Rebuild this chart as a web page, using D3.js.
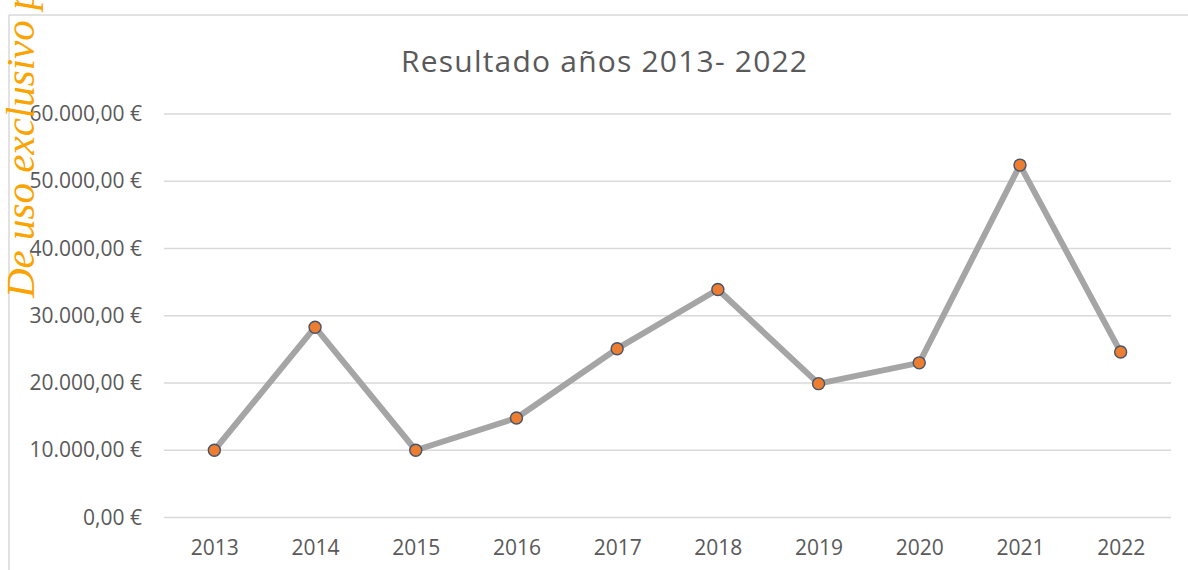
<!DOCTYPE html>
<html>
<head>
<meta charset="utf-8">
<script src="https://cdn.jsdelivr.net/npm/d3@7"></script>
<style>
  body { margin: 0; background: #fff; }
  svg { display: block; }
</style>
</head>
<body>
<script>
// data
var years = ["2013", "2014", "2015", "2016", "2017", "2018", "2019", "2020", "2021", "2022"];
var results = [10000, 28300, 10000, 14800, 25100, 33900, 19900, 23000, 52400, 24600];
var yTicks = [0, 10000, 20000, 30000, 40000, 50000, 60000];
var chartTitle = "Resultado años 2013- 2022";
var watermark = "De uso exclusivo para";

function show_chart(width, height) {
    var svg = d3.select("body").append("svg")
                .attr("width", width)
                .attr("height", height);

    // chart area border (top and left edges visible)
    svg.append("line")
        .attr("x1", 9).attr("x2", width)
        .attr("y1", 15).attr("y2", 15)
        .attr("stroke", "#d9d9d9").attr("stroke-width", 1.5);
    svg.append("line")
        .attr("x1", 9).attr("x2", 9)
        .attr("y1", 15).attr("y2", height)
        .attr("stroke", "#d9d9d9").attr("stroke-width", 1.5);

    var xScale = d3.scalePoint()
                    .domain(years)
                    .range([164, 1171])
                    .padding(0.5);

    var yScale = d3.scaleLinear()
                    .domain([0, 60000])
                    .range([517.5, 114]);

    var euro = d3.formatLocale({
        decimal: ",",
        thousands: ".",
        grouping: [3],
        currency: ["", " €"]
    }).format("$,.2f");

    // gridlines
    svg.append("g")
        .selectAll("line")
        .data(yTicks)
        .enter()
        .append("line")
        .attr("x1", 164)
        .attr("x2", 1171)
        .attr("y1", function(d) { return yScale(d); })
        .attr("y2", function(d) { return yScale(d); })
        .attr("stroke", "#d9d9d9")
        .attr("stroke-width", 1.5);

    // y axis
    var yAxis = svg.append("g")
        .attr("transform", "translate(164,0)")
        .call(d3.axisLeft(yScale).tickValues(yTicks).tickFormat(euro).tickSize(0).tickPadding(22));
    yAxis.select(".domain").remove();
    yAxis.selectAll("text")
        .attr("font-family", "'Open Sans', sans-serif")
        .attr("font-size", "21px")
        .attr("fill", "#595959");

    // x axis
    var xAxis = svg.append("g")
        .attr("transform", "translate(0,517.5)")
        .call(d3.axisBottom(xScale).tickSize(0).tickPadding(23));
    xAxis.select(".domain").remove();
    xAxis.selectAll("text")
        .attr("font-family", "'Open Sans', sans-serif")
        .attr("font-size", "21px")
        .attr("fill", "#595959");

    // line
    var line = d3.line()
        .x(function(d, i) { return xScale(years[i]); })
        .y(function(d) { return yScale(d); });

    svg.append("path")
        .datum(results)
        .attr("d", line)
        .attr("fill", "none")
        .attr("stroke", "#a5a5a5")
        .attr("stroke-width", 6)
        .attr("stroke-linejoin", "round");

    // markers
    svg.selectAll("circle")
        .data(results)
        .enter()
        .append("circle")
        .attr("cx", function(d, i) { return xScale(years[i]); })
        .attr("cy", function(d) { return yScale(d); })
        .attr("r", 6)
        .attr("fill", "#ed7d31")
        .attr("stroke", "#44546a")
        .attr("stroke-width", 1.4);

    // title
    svg.append("text")
        .text(chartTitle)
        .attr("x", 604)
        .attr("y", 72)
        .attr("text-anchor", "middle")
        .attr("font-family", "'Open Sans', sans-serif")
        .attr("font-size", "30px")
        .attr("textLength", 406)
        .attr("lengthAdjust", "spacing")
        .attr("fill", "#595959");

    // watermark
    svg.append("text")
        .text(watermark)
        .attr("transform", "translate(34,298) rotate(-90)")
        .attr("font-family", "'Liberation Serif', 'DejaVu Serif', serif")
        .attr("font-style", "italic")
        .attr("font-size", "41px")
        .attr("fill", "#fba300");
}

var width = 1188;
var height = 570;

document.addEventListener("DOMContentLoaded", function() { show_chart(width, height); });
</script>
</body>
</html>
